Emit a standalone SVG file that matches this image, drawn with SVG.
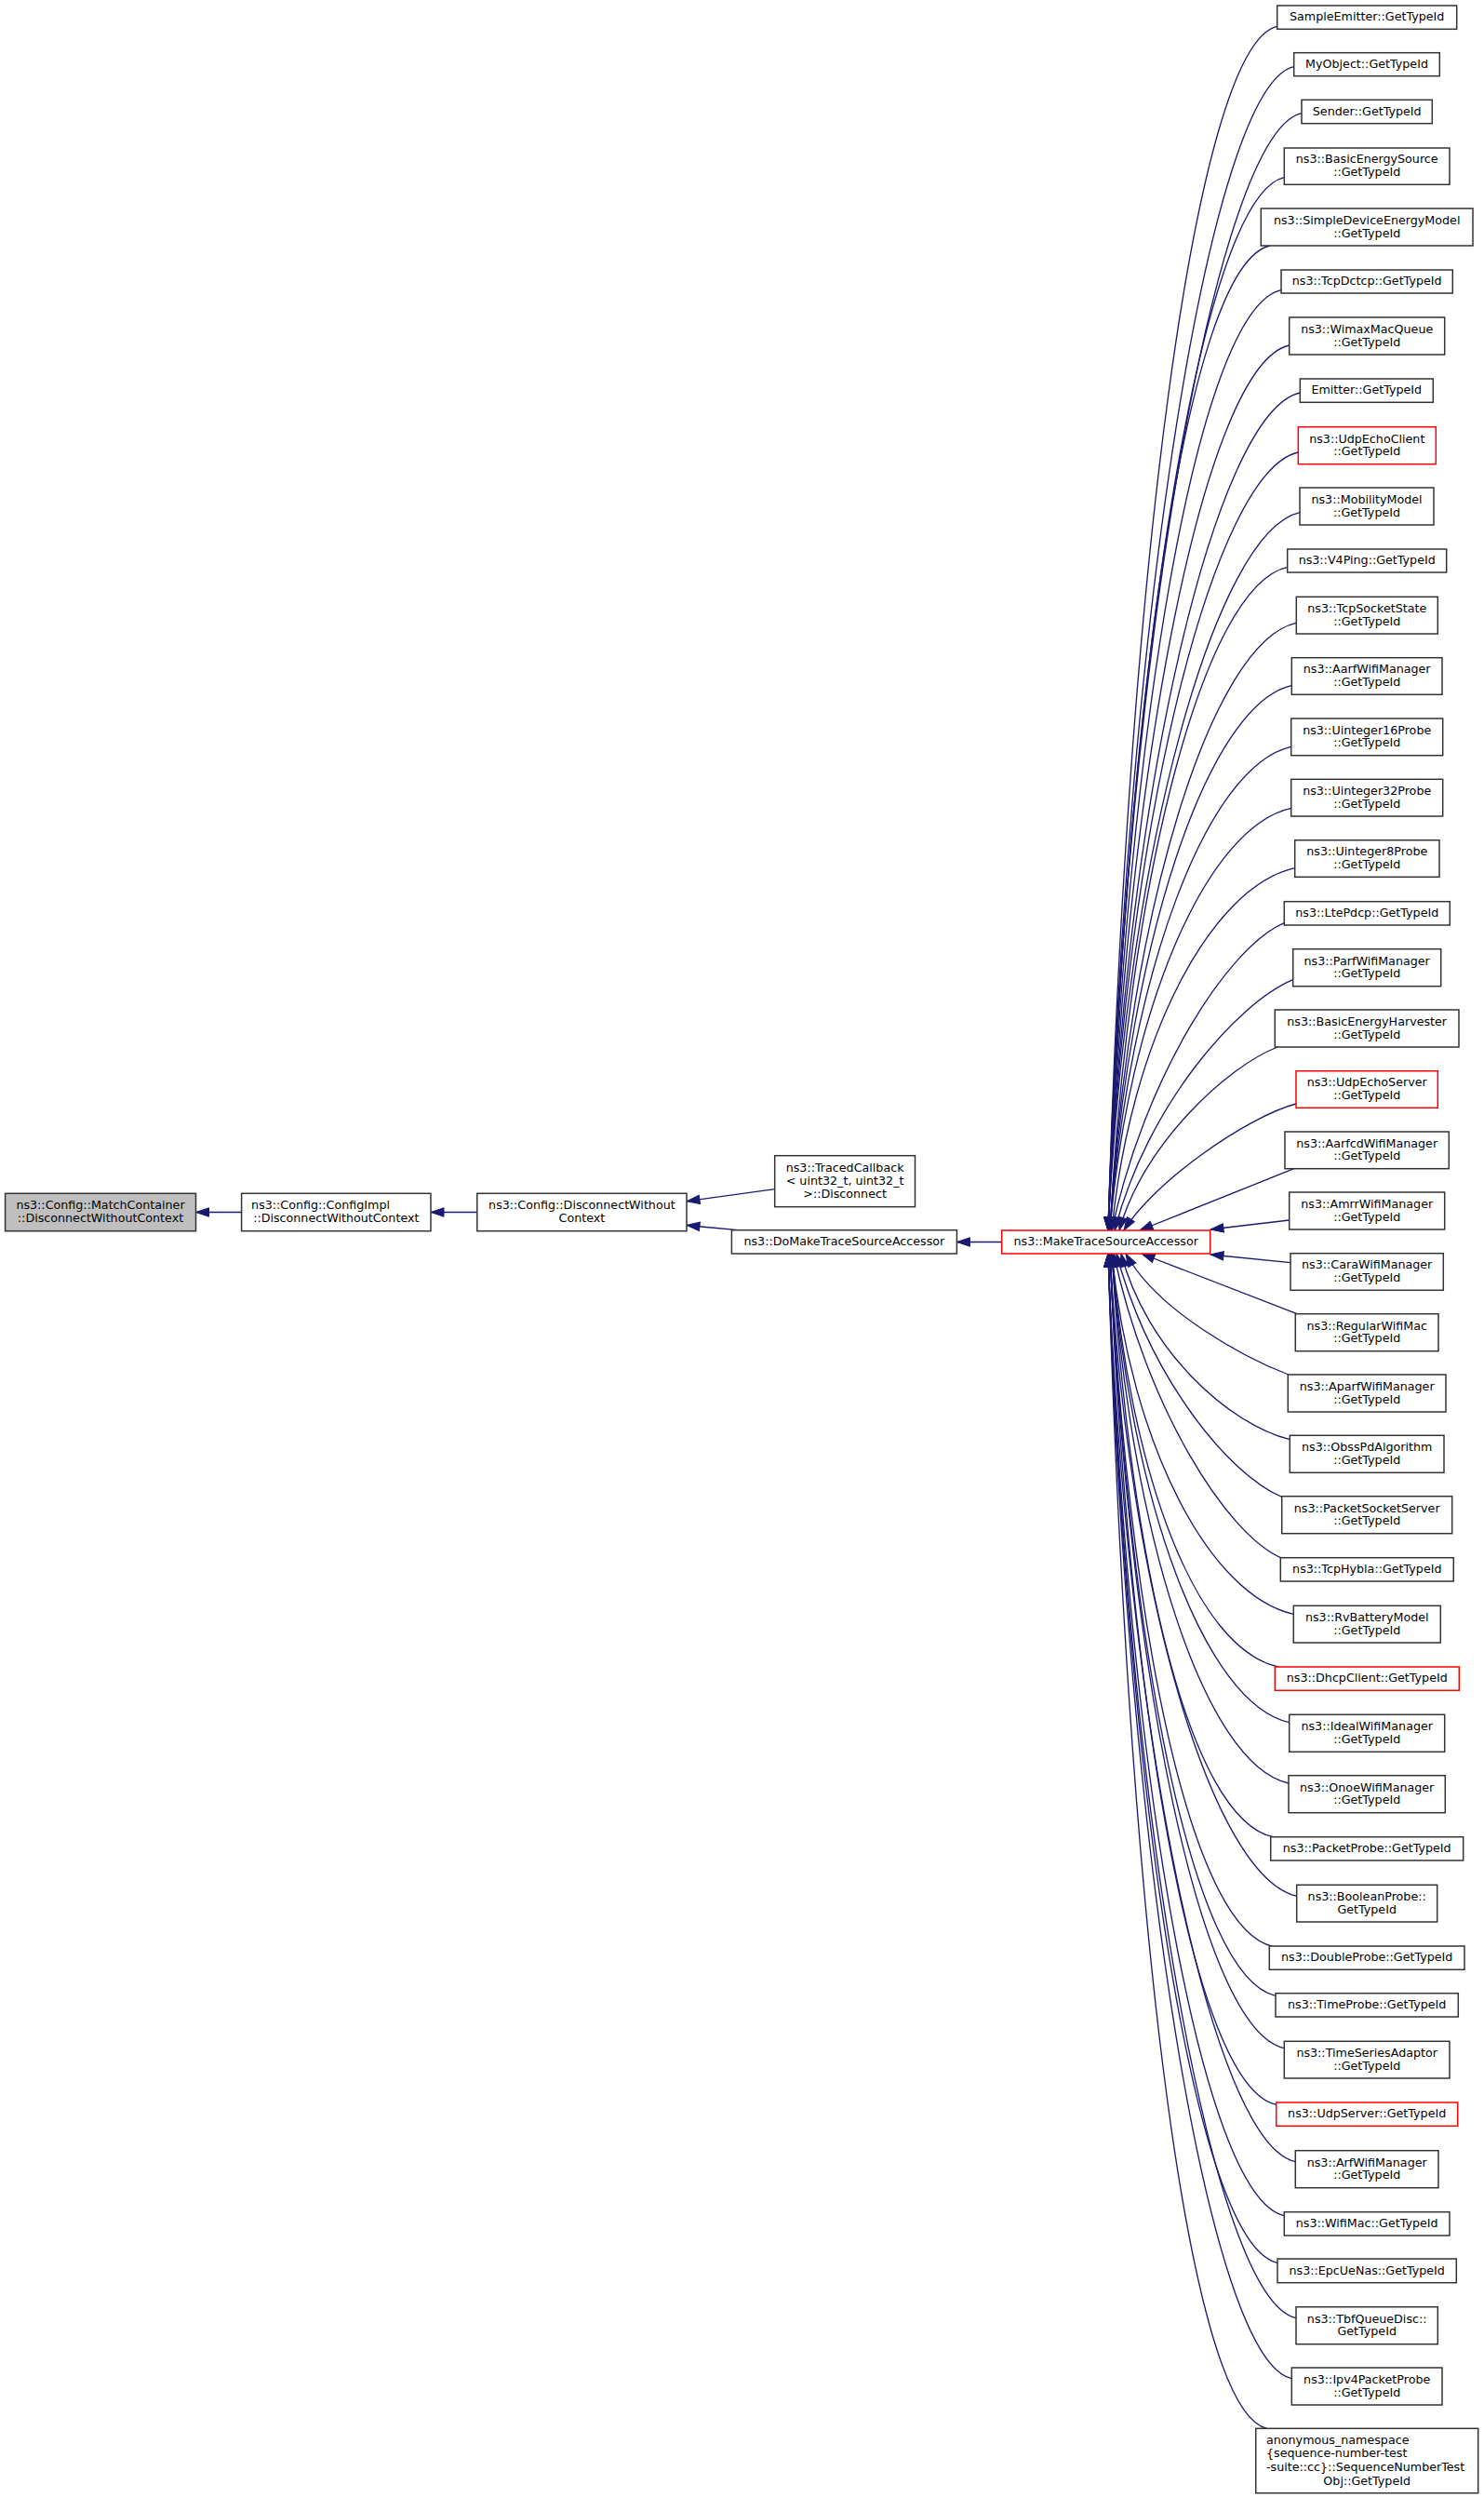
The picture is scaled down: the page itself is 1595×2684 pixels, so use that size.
<svg xmlns="http://www.w3.org/2000/svg" width="1595" height="2684" viewBox="0 0 1595 2684">
<style>
.n rect{fill:#fff;stroke:#333333;stroke-width:1.5}
.r rect{stroke:#ff0000}
.root rect{fill:#bfbfbf}
text{font-family:"DejaVu Sans","Liberation Sans",sans-serif;font-size:12.7px;fill:#000;text-anchor:middle}
text.s{text-anchor:start}
.e path{fill:none;stroke:#191970;stroke-width:1.33;marker-end:url(#arr)}
</style>
<defs>
<marker id="arr" markerUnits="userSpaceOnUse" markerWidth="16" markerHeight="12" refX="14" refY="5.5" orient="auto" overflow="visible">
<path d="M0,0.8 L14,5.5 L0,10.2 Z" fill="#191970" stroke="#191970" stroke-width="1"/>
</marker>
</defs>
<rect x="0" y="0" width="1595" height="2684" fill="#fff"/>
<g id="edges" class="e">
<path d="M259.6,1302.5 L210.5,1302.5"/>
<path d="M512.8,1302.5 L463,1302.5"/>
<path d="M832.7,1277.7 L738,1290.7"/>
<path d="M792.7,1321.7 L738,1316.5"/>
<path d="M1076.7,1334.5 L1028.4,1334.5"/>
<path d="M1372.7,28.3 C1282.7,48.3 1211,636.3 1191,1322"/>
<path d="M1390.7,71.7 C1300.7,91.7 1211,659.3 1191,1322"/>
<path d="M1399,121.7 C1309,141.7 1211,685.8 1191,1322"/>
<path d="M1380.3,190.7 C1290.3,210.7 1211,722.4 1191,1322"/>
<path d="M1365,264 C1275,284 1211,761.3 1191,1322"/>
<path d="M1377,311.7 C1287,331.7 1211,786.5 1191,1322"/>
<path d="M1385.7,371 C1295.7,391 1211,818 1191,1322"/>
<path d="M1397.3,422 C1307.3,442 1211,845 1191,1322"/>
<path d="M1395.3,486 C1305.3,506 1211,878.9 1191,1322"/>
<path d="M1397,550.7 C1307,570.7 1211,913.2 1191,1322"/>
<path d="M1383.7,609.3 C1293.7,629.3 1213,944.3 1193,1322"/>
<path d="M1393,669.3 C1303,689.3 1213,976.1 1193,1322"/>
<path d="M1388.3,736.7 C1298.3,756.7 1213,1011.8 1193,1322"/>
<path d="M1387.7,802.3 C1297.7,822.3 1213,1046.6 1193,1322"/>
<path d="M1387.7,868.3 C1297.7,888.3 1213,1081.5 1193,1322"/>
<path d="M1391.7,932.7 C1301.7,952.7 1215,1115.7 1195,1322"/>
<path d="M1380.3,991.7 C1320.3,1016.7 1230,1156.9 1195,1322"/>
<path d="M1389.7,1052.7 C1329.7,1077.7 1233,1187.4 1198,1322"/>
<path d="M1373.3,1125 C1320,1145 1228,1230 1203,1322"/>
<path d="M1393,1186 C1340,1200 1240,1270 1208,1322"/>
<path d="M1390.7,1255.7 L1225,1322"/>
<path d="M1385.7,1311 L1301,1321"/>
<path d="M1387,1356.7 L1301,1348"/>
<path d="M1394,1411.7 L1227,1347"/>
<path d="M1386,1477.5 C1340,1460 1245,1410 1210,1347"/>
<path d="M1386.3,1546.7 C1320,1530 1232,1450 1205,1347"/>
<path d="M1379,1609 C1319,1584 1235,1478 1200,1347"/>
<path d="M1378,1674.3 C1318,1649.3 1232,1510.7 1197,1347"/>
<path d="M1390.3,1734.3 C1300.3,1714.3 1215,1552.3 1195,1347"/>
<path d="M1374,1791 C1284,1771 1215,1582.3 1195,1347"/>
<path d="M1385.7,1850.7 C1295.7,1830.7 1215,1614 1195,1347"/>
<path d="M1385,1916 C1295,1896 1215,1648.6 1195,1347"/>
<path d="M1368.3,1973.7 C1278.3,1953.7 1215,1679.2 1195,1347"/>
<path d="M1393.7,2037.3 C1303.7,2017.3 1213,1712.9 1193,1347"/>
<path d="M1368,2091.3 C1278,2071.3 1213,1741.5 1193,1347"/>
<path d="M1371,2144.3 C1281,2124.3 1213,1769.6 1193,1347"/>
<path d="M1380.3,2200.7 C1290.3,2180.7 1213,1799.5 1193,1347"/>
<path d="M1371.7,2261.3 C1281.7,2241.3 1213,1831.6 1193,1347"/>
<path d="M1392.3,2322.7 C1302.3,2302.7 1211,1864.1 1191,1347"/>
<path d="M1380.3,2380.7 C1290.3,2360.7 1211,1894.9 1191,1347"/>
<path d="M1373,2431.3 C1283,2411.3 1211,1921.7 1191,1347"/>
<path d="M1393,2490.7 C1303,2470.7 1211,1953.2 1191,1347"/>
<path d="M1388.3,2555.7 C1298.3,2535.7 1211,1987.6 1191,1347"/>
<path d="M1361.7,2609.3 C1271.7,2589.3 1211,2016 1191,1347"/>
</g>
<g id="node_match" class="n root"><rect x="5.6" y="1282.3" width="204.9" height="40.4"/><text x="108" y="1299.3">ns3::Config::MatchContainer</text><text x="108" y="1313.1">::DisconnectWithoutContext</text></g>
<g id="node_configimpl" class="n"><rect x="259.6" y="1282.3" width="203.4" height="40.4"/><text class="s" x="270.1" y="1299.3">ns3::Config::ConfigImpl</text><text x="361.3" y="1313.1">::DisconnectWithoutContext</text></g>
<g id="node_disconnect" class="n"><rect x="512.8" y="1282.3" width="225.2" height="40.4"/><text x="625.4" y="1299.3">ns3::Config::DisconnectWithout</text><text x="625.4" y="1313.1">Context</text></g>
<g id="node_tracedcb" class="n"><rect x="832.7" y="1241.7" width="150.8" height="55"/><text x="908.1" y="1258.6">ns3::TracedCallback</text><text x="908.1" y="1272.9">&lt; uint32_t, uint32_t</text><text x="908.1" y="1287.2">&gt;::Disconnect</text></g>
<g id="node_domake" class="n"><rect x="786.4" y="1321.7" width="242" height="25.3"/><text x="907.4" y="1338.05">ns3::DoMakeTraceSourceAccessor</text></g>
<g id="node_make" class="n r"><rect x="1076.7" y="1322" width="224" height="25"/><text x="1188.7" y="1338.2">ns3::MakeTraceSourceAccessor</text></g>
<g id="n1" class="n"><rect x="1372.7" y="6" width="193" height="25.3"/><text x="1469.2" y="22.4">SampleEmitter::GetTypeId</text></g>
<g id="n2" class="n"><rect x="1390.7" y="56.7" width="156.6" height="25"/><text x="1469" y="73">MyObject::GetTypeId</text></g>
<g id="n3" class="n"><rect x="1399" y="107.3" width="140.3" height="25.4"/><text x="1469.2" y="123.7">Sender::GetTypeId</text></g>
<g id="n4" class="n"><rect x="1380.3" y="159" width="177.7" height="39.3"/><text x="1469.2" y="175.45">ns3::BasicEnergySource</text><text x="1469.2" y="189.25">::GetTypeId</text></g>
<g id="n5" class="n"><rect x="1355.3" y="224" width="227.7" height="40"/><text x="1469.2" y="240.8">ns3::SimpleDeviceEnergyModel</text><text x="1469.2" y="254.6">::GetTypeId</text></g>
<g id="n6" class="n"><rect x="1377" y="290" width="184.3" height="25"/><text x="1469.2" y="306.2">ns3::TcpDctcp::GetTypeId</text></g>
<g id="n7" class="n"><rect x="1385.7" y="341" width="167" height="40"/><text x="1469.2" y="357.8">ns3::WimaxMacQueue</text><text x="1469.2" y="371.6">::GetTypeId</text></g>
<g id="n8" class="n"><rect x="1397.3" y="407" width="143" height="25.3"/><text x="1468.8" y="423.35">Emitter::GetTypeId</text></g>
<g id="n9" class="n r"><rect x="1395.3" y="458.7" width="148" height="40"/><text x="1469.3" y="475.5">ns3::UdpEchoClient</text><text x="1469.3" y="489.3">::GetTypeId</text></g>
<g id="n10" class="n"><rect x="1397" y="524" width="144" height="40"/><text x="1469" y="540.8">ns3::MobilityModel</text><text x="1469" y="554.6">::GetTypeId</text></g>
<g id="n11" class="n"><rect x="1383.7" y="590" width="171" height="25"/><text x="1469.2" y="606.2">ns3::V4Ping::GetTypeId</text></g>
<g id="n12" class="n"><rect x="1393.3" y="641.3" width="152" height="39.7"/><text x="1469.3" y="657.95">ns3::TcpSocketState</text><text x="1469.3" y="671.75">::GetTypeId</text></g>
<g id="n13" class="n"><rect x="1388.3" y="706.7" width="161.7" height="39.6"/><text x="1469.2" y="723.3">ns3::AarfWifiManager</text><text x="1469.2" y="737.1">::GetTypeId</text></g>
<g id="n14" class="n"><rect x="1387.7" y="772" width="163" height="39.7"/><text x="1469.2" y="788.65">ns3::Uinteger16Probe</text><text x="1469.2" y="802.45">::GetTypeId</text></g>
<g id="n15" class="n"><rect x="1387.7" y="837.3" width="163" height="39.7"/><text x="1469.2" y="853.95">ns3::Uinteger32Probe</text><text x="1469.2" y="867.75">::GetTypeId</text></g>
<g id="n16" class="n"><rect x="1391.7" y="902.7" width="155.3" height="39.6"/><text x="1469.3" y="919.3">ns3::Uinteger8Probe</text><text x="1469.3" y="933.1">::GetTypeId</text></g>
<g id="n17" class="n"><rect x="1380.3" y="968.7" width="178" height="25.3"/><text x="1469.3" y="985.05">ns3::LtePdcp::GetTypeId</text></g>
<g id="n18" class="n"><rect x="1389.7" y="1019.7" width="159" height="40"/><text x="1469.2" y="1036.5">ns3::ParfWifiManager</text><text x="1469.2" y="1050.3">::GetTypeId</text></g>
<g id="n19" class="n"><rect x="1370.3" y="1085" width="197.7" height="40"/><text x="1469.2" y="1101.8">ns3::BasicEnergyHarvester</text><text x="1469.2" y="1115.6">::GetTypeId</text></g>
<g id="n20" class="n r"><rect x="1393" y="1150.7" width="152.3" height="39.6"/><text x="1469.2" y="1167.3">ns3::UdpEchoServer</text><text x="1469.2" y="1181.1">::GetTypeId</text></g>
<g id="n21" class="n"><rect x="1381" y="1216" width="176.3" height="39.7"/><text x="1469.2" y="1232.65">ns3::AarfcdWifiManager</text><text x="1469.2" y="1246.45">::GetTypeId</text></g>
<g id="n22" class="n"><rect x="1385.7" y="1281" width="167" height="40"/><text x="1469.2" y="1297.8">ns3::AmrrWifiManager</text><text x="1469.2" y="1311.6">::GetTypeId</text></g>
<g id="n23" class="n"><rect x="1387" y="1346.7" width="164.3" height="39.6"/><text x="1469.2" y="1363.3">ns3::CaraWifiManager</text><text x="1469.2" y="1377.1">::GetTypeId</text></g>
<g id="n24" class="n"><rect x="1392.3" y="1411.7" width="153.7" height="40"/><text x="1469.2" y="1428.5">ns3::RegularWifiMac</text><text x="1469.2" y="1442.3">::GetTypeId</text></g>
<g id="n25" class="n"><rect x="1384.3" y="1477" width="169.7" height="40"/><text x="1469.2" y="1493.8">ns3::AparfWifiManager</text><text x="1469.2" y="1507.6">::GetTypeId</text></g>
<g id="n26" class="n"><rect x="1386.3" y="1542.3" width="165.7" height="40"/><text x="1469.2" y="1559.1">ns3::ObssPdAlgorithm</text><text x="1469.2" y="1572.9">::GetTypeId</text></g>
<g id="n27" class="n"><rect x="1377.7" y="1607.7" width="183" height="40"/><text x="1469.2" y="1624.5">ns3::PacketSocketServer</text><text x="1469.2" y="1638.3">::GetTypeId</text></g>
<g id="n28" class="n"><rect x="1376.3" y="1673.7" width="186" height="25.3"/><text x="1469.3" y="1690.05">ns3::TcpHybla::GetTypeId</text></g>
<g id="n29" class="n"><rect x="1390.3" y="1725.3" width="158" height="39.7"/><text x="1469.3" y="1741.95">ns3::RvBatteryModel</text><text x="1469.3" y="1755.75">::GetTypeId</text></g>
<g id="n30" class="n r"><rect x="1370.3" y="1791" width="198" height="25.3"/><text x="1469.3" y="1807.35">ns3::DhcpClient::GetTypeId</text></g>
<g id="n31" class="n"><rect x="1385.7" y="1842.3" width="167" height="40"/><text x="1469.2" y="1859.1">ns3::IdealWifiManager</text><text x="1469.2" y="1872.9">::GetTypeId</text></g>
<g id="n32" class="n"><rect x="1385" y="1907.7" width="168.3" height="40"/><text x="1469.2" y="1924.5">ns3::OnoeWifiManager</text><text x="1469.2" y="1938.3">::GetTypeId</text></g>
<g id="n33" class="n"><rect x="1365.7" y="1973.7" width="207" height="25.3"/><text x="1469.2" y="1990.05">ns3::PacketProbe::GetTypeId</text></g>
<g id="n34" class="n"><rect x="1393.7" y="2025.3" width="151" height="39.7"/><text x="1469.2" y="2041.95">ns3::BooleanProbe::</text><text x="1469.2" y="2055.75">GetTypeId</text></g>
<g id="n35" class="n"><rect x="1364.3" y="2091" width="209.7" height="25.3"/><text x="1469.2" y="2107.35">ns3::DoubleProbe::GetTypeId</text></g>
<g id="n36" class="n"><rect x="1371" y="2141.7" width="196.3" height="25.3"/><text x="1469.2" y="2158.05">ns3::TimeProbe::GetTypeId</text></g>
<g id="n37" class="n"><rect x="1380.3" y="2193.3" width="177.7" height="39.7"/><text x="1469.2" y="2209.95">ns3::TimeSeriesAdaptor</text><text x="1469.2" y="2223.75">::GetTypeId</text></g>
<g id="n38" class="n r"><rect x="1371.7" y="2259" width="195" height="25.3"/><text x="1469.2" y="2275.35">ns3::UdpServer::GetTypeId</text></g>
<g id="n39" class="n"><rect x="1392.3" y="2310.7" width="153.7" height="40"/><text x="1469.2" y="2327.5">ns3::ArfWifiManager</text><text x="1469.2" y="2341.3">::GetTypeId</text></g>
<g id="n40" class="n"><rect x="1380.3" y="2376.7" width="177.7" height="25.3"/><text x="1469.2" y="2393.05">ns3::WifiMac::GetTypeId</text></g>
<g id="n41" class="n"><rect x="1373" y="2427" width="192.3" height="25.7"/><text x="1469.2" y="2443.55">ns3::EpcUeNas::GetTypeId</text></g>
<g id="n42" class="n"><rect x="1393" y="2478.7" width="152.3" height="40"/><text x="1469.2" y="2495.5">ns3::TbfQueueDisc::</text><text x="1469.2" y="2509.3">GetTypeId</text></g>
<g id="n43" class="n"><rect x="1388.3" y="2544" width="161.7" height="40"/><text x="1469.2" y="2560.8">ns3::Ipv4PacketProbe</text><text x="1469.2" y="2574.6">::GetTypeId</text></g>
<g id="n44" class="n"><rect x="1349.7" y="2609.3" width="239" height="69.4"/><text class="s" x="1361" y="2625.7">anonymous_namespace</text><text class="s" x="1361" y="2640.4">{sequence-number-test</text><text class="s" x="1361" y="2655">-suite::cc}::SequenceNumberTest</text><text x="1469.2" y="2669.7">Obj::GetTypeId</text></g>
</svg>
